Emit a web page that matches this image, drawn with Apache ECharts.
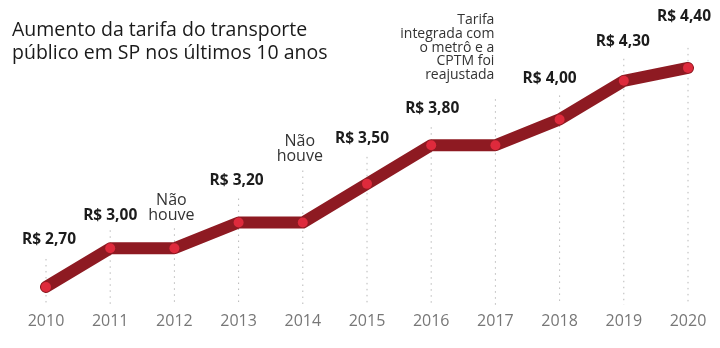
<!DOCTYPE html>
<html><head><meta charset="utf-8">
<script src="https://cdn.jsdelivr.net/npm/echarts@6/dist/echarts.min.js"></script>
<style>html,body{margin:0;padding:0;background:#fff}#c{width:720px;height:348px}</style>
</head><body><div id="c"></div>
<script>
var years = ['2010','2011','2012','2013','2014','2015','2016','2017','2018','2019','2020'];
var fares = [2.70, 3.00, 3.00, 3.20, 3.20, 3.50, 3.80, 3.80, 4.00, 4.30, 4.40];
var labelTexts = ['R$ 2,70','R$ 3,00','Não\nhouve','R$ 3,20','Não\nhouve','R$ 3,50','R$ 3,80',
  'Tarifa\nintegrada com\no metrô e a\nCPTM foi\nreajustada','R$ 4,00','R$ 4,30','R$ 4,40'];
var titleText = 'Aumento da tarifa do transporte\npúblico em SP nos últimos 10 anos';

// layout (pixels): label kind, label offset, gap between point and top of dotted guide
var labelKind = ['v','v','n','v','n','v','v','note','v','v','v'];
var labelOffset = [[3,-33],[0,-19],[-3,-20],[-2,-28],[-3,-54],[-5,-31],[1,-23],[-1,-58],[-10,-27],[-1,-25],[-4,-37]];
var guideGap = [28,18,20,24,52,27,18,46,24,22,20];

var data = fares.map(function(v,i){
  var k = labelKind[i];
  var lab = {show:true, position:'top', distance:0, offset:labelOffset[i], formatter: labelTexts[i]};
  if(k==='v'){ lab.fontSize=15.5; lab.fontWeight='bold'; lab.color='#1c1c1c'; lab.lineHeight=18; lab.align='center'; }
  else if(k==='n'){ lab.fontSize=16; lab.color='#333'; lab.lineHeight=15; lab.align='center'; }
  else { lab.fontSize=14; lab.color='#333'; lab.lineHeight=13.8; lab.align='right'; }
  return {value:v, label:lab};
});

var chart = echarts.init(document.getElementById('c'));
chart.setOption({
  animation:false,
  textStyle:{fontFamily:'Open Sans'},
  title:{text:titleText, left:12, top:19, padding:0, textStyle:{fontFamily:'Open Sans', fontSize:19.5, fontWeight:'normal', color:'#1a1a1a', lineHeight:23}},
  grid:{left:46, right:32, top:55, bottom:43},
  xAxis:{type:'category', data:years, boundaryGap:false,
    axisLine:{show:false}, axisTick:{show:false}, splitLine:{show:false},
    axisLabel:{color:'#777', fontSize:16, margin:8, fontFamily:'Open Sans'}},
  yAxis:{type:'value', min:2.56, max:4.5, show:false, splitLine:{show:false}},
  series:[
    {type:'custom', z:1, silent:true,
      renderItem:function(params, api){
        var idx = api.value(0);
        var p = api.coord([idx, api.value(1)]);
        var cs = params.coordSys;
        var top = p[1] - guideGap[params.dataIndex];
        var bottom = cs.y + cs.height;
        return {type:'line', shape:{x1:p[0], y1:top, x2:p[0], y2:bottom},
          style:{stroke:'#b8b8b8', lineWidth:1, lineDash:[1.5,4.5]}};
      },
      data: fares.map(function(v,i){return [i, v];})
    },
    {type:'line', z:3, data:data, symbol:'circle', symbolSize:10,
      lineStyle:{color:'#8e1a22', width:12, join:'round', cap:'round'},
      itemStyle:{color:'#de2a3c', borderWidth:0},
      emphasis:{disabled:true}
    }
  ]
});
</script></body></html>
